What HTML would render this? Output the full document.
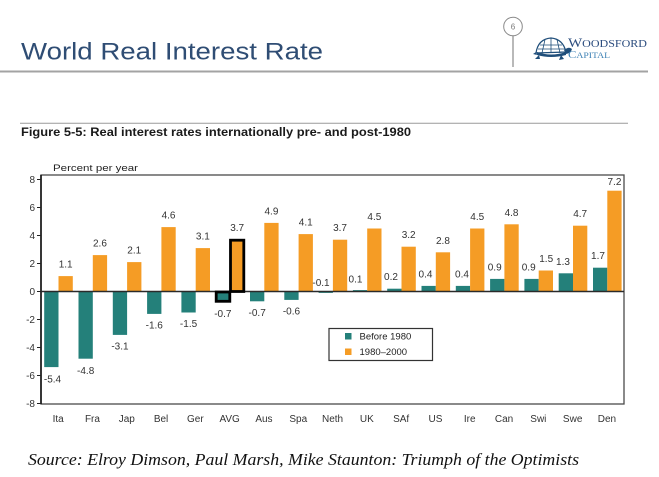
<!DOCTYPE html>
<html><head><meta charset="utf-8"><style>
html,body{margin:0;padding:0;background:#fff;width:659px;height:477px;overflow:hidden}
svg{display:block}
.s{font-family:"Liberation Sans",Arial,sans-serif}
.v{font-family:"Liberation Sans",Arial,sans-serif;font-size:10px;fill:#333;text-anchor:middle}
.x{font-family:"Liberation Sans",Arial,sans-serif;font-size:10px;fill:#333;text-anchor:middle}
.y{font-family:"Liberation Sans",Arial,sans-serif;font-size:10px;fill:#333;text-anchor:end}
.serif{font-family:"Liberation Serif","Times New Roman",serif}
</style></head><body>
<svg width="659" height="477" viewBox="0 0 659 477" xmlns="http://www.w3.org/2000/svg">
<rect width="659" height="477" fill="#fff"/>
<!-- Header -->
<text class="s" x="21" y="59.5" font-size="24.5" fill="#2f4d74" textLength="302" lengthAdjust="spacingAndGlyphs">World Real Interest Rate</text>
<line x1="0" y1="71.5" x2="648" y2="71.5" stroke="#a3a3a3" stroke-width="2"/>
<circle cx="513" cy="26.5" r="9.3" fill="#fff" stroke="#8a8a8a" stroke-width="1"/>
<text class="s" x="513" y="29.5" font-size="8" fill="#777" text-anchor="middle">6</text>
<line x1="513" y1="36" x2="513" y2="67" stroke="#8a8a8a" stroke-width="1.2"/>
<!-- turtle logo -->
<g>
<path d="M536 53 Q538 39 551 38 Q563 39 566 52 Z" fill="#fff" stroke="#1f4e7a" stroke-width="1.2"/>
<path d="M540 45 L562 45 M538 49 L565 49 M545 39.5 L542 53 M551 38 L551 53 M557 39.5 L560 53" stroke="#1f4e7a" stroke-width="0.8" fill="none"/>
<path d="M537 52 Q551 57 566 52 L566 55 Q551 59 537 55 Z" fill="#1f4e7a"/>
<path d="M564 50 Q569 46 572 49 Q571 53 566 54 Z" fill="#1f4e7a"/>
<path d="M539 55 L535 59 L540 59 Z M561 55 L559 60 L564 59 Z M533 54 L536 52 L537 55 Z" fill="#1f4e7a"/>
</g>
<text class="serif" style="font-family:'Liberation Serif',serif" x="568" y="47" fill="#2b4c7e" textLength="79" lengthAdjust="spacingAndGlyphs"><tspan font-size="12.5">W</tspan><tspan font-size="10">OODSFORD</tspan></text>
<text class="serif" style="font-family:'Liberation Serif',serif" x="568" y="58" fill="#3f82b5" textLength="42" lengthAdjust="spacingAndGlyphs"><tspan font-size="11">C</tspan><tspan font-size="8.5">APITAL</tspan></text>

<!-- Figure caption -->
<line x1="20" y1="123.3" x2="628" y2="123.3" stroke="#9a9a9a" stroke-width="1"/>
<text class="s" x="21" y="136" font-size="11.5" font-weight="bold" fill="#1a1a1a" textLength="390" lengthAdjust="spacingAndGlyphs">Figure 5-5: Real interest rates internationally pre- and post-1980</text>
<text class="s" x="53" y="171" font-size="9.5" fill="#222" textLength="85" lengthAdjust="spacingAndGlyphs">Percent per year</text>

<!-- Plot frame -->
<rect x="41" y="175" width="583" height="229" fill="none" stroke="#4a4a4a" stroke-width="1.3"/>
<line x1="41" y1="175" x2="41" y2="404" stroke="#111" stroke-width="1.6"/>
<!-- y ticks -->
<g stroke="#222" stroke-width="1">
<line x1="37" y1="179.5" x2="41" y2="179.5"/><line x1="37" y1="207.5" x2="41" y2="207.5"/>
<line x1="37" y1="235.5" x2="41" y2="235.5"/><line x1="37" y1="263.5" x2="41" y2="263.5"/>
<line x1="37" y1="291.5" x2="41" y2="291.5"/><line x1="37" y1="319.5" x2="41" y2="319.5"/>
<line x1="37" y1="347.5" x2="41" y2="347.5"/><line x1="37" y1="375.5" x2="41" y2="375.5"/>
<line x1="37" y1="403.5" x2="41" y2="403.5"/>
</g>
<text class="y" x="35" y="183">8</text><text class="y" x="35" y="211">6</text>
<text class="y" x="35" y="239">4</text><text class="y" x="35" y="267">2</text>
<text class="y" x="35" y="295">0</text><text class="y" x="35" y="323">-2</text>
<text class="y" x="35" y="351">-4</text><text class="y" x="35" y="379">-6</text>
<text class="y" x="35" y="407">-8</text>

<!-- Teal bars -->
<g fill="#24807a">
<rect x="44.2" y="291.5" width="14.3" height="75.6"/>
<rect x="78.5" y="291.5" width="14.3" height="67.2"/>
<rect x="112.8" y="291.5" width="14.3" height="43.4"/>
<rect x="147.1" y="291.5" width="14.3" height="22.4"/>
<rect x="181.4" y="291.5" width="14.3" height="21"/>
<rect x="215.7" y="291.5" width="14.3" height="9.8"/>
<rect x="250.0" y="291.5" width="14.3" height="9.8"/>
<rect x="284.3" y="291.5" width="14.3" height="8.4"/>
<rect x="318.6" y="291.5" width="14.3" height="1.4"/>
<rect x="352.9" y="290.1" width="14.3" height="1.4"/>
<rect x="387.2" y="288.7" width="14.3" height="2.8"/>
<rect x="421.5" y="285.9" width="14.3" height="5.6"/>
<rect x="455.8" y="285.9" width="14.3" height="5.6"/>
<rect x="490.1" y="278.9" width="14.3" height="12.6"/>
<rect x="524.4" y="278.9" width="14.3" height="12.6"/>
<rect x="558.7" y="273.3" width="14.3" height="18.2"/>
<rect x="593.0" y="267.7" width="14.3" height="23.8"/>
</g>
<!-- Orange bars -->
<g fill="#f59c25">
<rect x="58.5" y="276.1" width="14.3" height="15.4"/>
<rect x="92.8" y="255.1" width="14.3" height="36.4"/>
<rect x="127.1" y="262.1" width="14.3" height="29.4"/>
<rect x="161.4" y="227.1" width="14.3" height="64.4"/>
<rect x="195.7" y="248.1" width="14.3" height="43.4"/>
<rect x="230.0" y="239.7" width="14.3" height="51.8"/>
<rect x="264.3" y="222.9" width="14.3" height="68.6"/>
<rect x="298.6" y="234.1" width="14.3" height="57.4"/>
<rect x="332.9" y="239.7" width="14.3" height="51.8"/>
<rect x="367.2" y="228.5" width="14.3" height="63"/>
<rect x="401.5" y="246.7" width="14.3" height="44.8"/>
<rect x="435.8" y="252.3" width="14.3" height="39.2"/>
<rect x="470.1" y="228.5" width="14.3" height="63"/>
<rect x="504.4" y="224.3" width="14.3" height="67.2"/>
<rect x="538.7" y="270.5" width="14.3" height="21"/>
<rect x="573.0" y="225.7" width="14.3" height="65.8"/>
<rect x="607.3" y="190.7" width="14.3" height="100.8"/>
</g>
<!-- zero line -->
<line x1="41" y1="291.5" x2="624" y2="291.5" stroke="#2a2a2a" stroke-width="1.4"/>
<!-- AVG highlight -->
<rect x="216.2" y="292" width="13.6" height="9.3" fill="none" stroke="#000" stroke-width="2.8"/>
<rect x="230.5" y="240.2" width="13.3" height="51.3" fill="none" stroke="#000" stroke-width="2.8"/>

<!-- Orange value labels -->
<text class="v" x="65.65" y="267.6">1.1</text>
<text class="v" x="99.95" y="246.6">2.6</text>
<text class="v" x="134.25" y="253.6">2.1</text>
<text class="v" x="168.55" y="218.6">4.6</text>
<text class="v" x="202.85" y="239.6">3.1</text>
<text class="v" x="237.15" y="230.8">3.7</text>
<text class="v" x="271.45" y="214.4">4.9</text>
<text class="v" x="305.75" y="225.6">4.1</text>
<text class="v" x="340.05" y="231.2">3.7</text>
<text class="v" x="374.35" y="220">4.5</text>
<text class="v" x="408.65" y="238.2">3.2</text>
<text class="v" x="442.95" y="243.8">2.8</text>
<text class="v" x="477.25" y="220">4.5</text>
<text class="v" x="511.55" y="215.8">4.8</text>
<text class="v" x="546.2" y="262">1.5</text>
<text class="v" x="580.15" y="217.2">4.7</text>
<text class="v" x="614.45" y="185.2">7.2</text>
<!-- Teal value labels -->
<text class="v" x="52.5" y="382.6">-5.4</text>
<text class="v" x="85.65" y="374">-4.8</text>
<text class="v" x="119.95" y="349.4">-3.1</text>
<text class="v" x="154.25" y="328.4">-1.6</text>
<text class="v" x="188.55" y="327">-1.5</text>
<text class="v" x="222.85" y="317.2">-0.7</text>
<text class="v" x="257.15" y="315.8">-0.7</text>
<text class="v" x="291.45" y="314.4">-0.6</text>
<text class="v" x="321" y="286">-0.1</text>
<text class="v" x="355.5" y="282.5">0.1</text>
<text class="v" x="391" y="280.2">0.2</text>
<text class="v" x="425.5" y="277.4">0.4</text>
<text class="v" x="462" y="277.4">0.4</text>
<text class="v" x="494.7" y="270.6">0.9</text>
<text class="v" x="528.7" y="270.6">0.9</text>
<text class="v" x="563" y="264.8">1.3</text>
<text class="v" x="598" y="259.2">1.7</text>

<!-- Legend -->
<rect x="329" y="328.5" width="103.5" height="32" fill="#fff" stroke="#333" stroke-width="1.2"/>
<rect x="345" y="333" width="6.5" height="6.5" fill="#24807a"/>
<text class="s" x="359.5" y="339.5" font-size="9.5" fill="#222">Before 1980</text>
<rect x="345" y="348.5" width="6.5" height="6.5" fill="#f59c25"/>
<text class="s" x="359.5" y="355" font-size="9.5" fill="#222">1980–2000</text>

<!-- X labels -->
<text class="x" x="58.15" y="422">Ita</text>
<text class="x" x="92.45" y="422">Fra</text>
<text class="x" x="126.75" y="422">Jap</text>
<text class="x" x="161.05" y="422">Bel</text>
<text class="x" x="195.35" y="422">Ger</text>
<text class="x" x="229.65" y="422">AVG</text>
<text class="x" x="263.95" y="422">Aus</text>
<text class="x" x="298.25" y="422">Spa</text>
<text class="x" x="332.55" y="422">Neth</text>
<text class="x" x="366.85" y="422">UK</text>
<text class="x" x="401.15" y="422">SAf</text>
<text class="x" x="435.45" y="422">US</text>
<text class="x" x="469.75" y="422">Ire</text>
<text class="x" x="504.05" y="422">Can</text>
<text class="x" x="538.35" y="422">Swi</text>
<text class="x" x="572.65" y="422">Swe</text>
<text class="x" x="606.95" y="422">Den</text>

<!-- Source -->
<text class="serif" style="font-family:'Liberation Serif',serif;font-style:italic" x="28" y="465" font-size="17" fill="#111" textLength="551" lengthAdjust="spacingAndGlyphs">Source: Elroy Dimson, Paul Marsh, Mike Staunton: Triumph of the Optimists</text>
</svg>
</body></html>
